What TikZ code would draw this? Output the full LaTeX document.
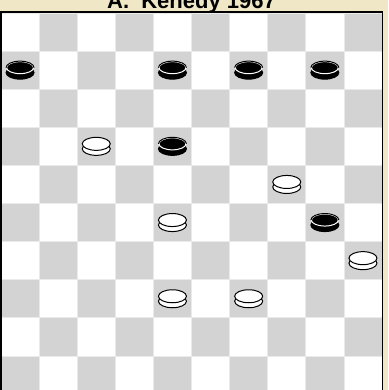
\documentclass[tikz,border=0pt]{standalone}
\usepackage{fontspec}
\setmainfont{Liberation Sans}
\usepackage{xcolor}
\usepackage{tikz}
\definecolor{boardFrame}{RGB}{239,231,197}
\definecolor{boardDark}{RGB}{211,211,211}
\definecolor{boardSeam}{RGB}{234,234,234}
\newcommand{\sqsize}{38.1}
\tikzset{
  titlelabel/.style={font=\bfseries\fontsize{22}{24}\selectfont, text=black, inner sep=0pt, anchor=base},
  lightsq/.style={fill=white, draw=boardSeam, line width=0.8pt},
  darksq/.style={fill=boardDark, draw=boardSeam, line width=0.8pt},
  boardedge/.style={draw=black, line width=1.6pt},
  whiteman/.pic={
    \filldraw[fill=white, draw=black, line width=1pt] (0,2.5) ellipse (14 and 6.5);
    \filldraw[fill=white, draw=black, line width=1pt] (0,-2.5) ellipse (14 and 6.5);
  },
  blackman/.pic={
    \filldraw[fill=black, draw=black, line width=1pt] (0,2.5) ellipse (14 and 6.5);
    \filldraw[fill=black, draw=white, line width=1pt] (0,-2.5) ellipse (13.5 and 6);
    \draw[black, line width=1pt] (-14,-2.5) arc[start angle=180, end angle=360, x radius=14, y radius=6.5];
  },
}

\begin{document}
\begin{tikzpicture}[x=1pt, y=-1pt]
  \useasboundingbox (0,0) rectangle (388,390);
  \clip (0,0) rectangle (388,390);
  \fill[boardFrame] (0,0) rectangle (388,390);

  \node[titlelabel] (title) at (191.5,9) {A.\ \ Kenedy 1967};

  % squares
  \foreach \row in {0,...,9}{
    \foreach \col in {0,...,9}{
      \pgfmathtruncatemacro{\shade}{mod(\row+\col,2)}
      \ifnum\shade=1
        \path[darksq] ({1+\col*\sqsize},{13+\row*\sqsize}) rectangle ++(\sqsize,\sqsize);
      \else
        \path[lightsq] ({1+\col*\sqsize},{13+\row*\sqsize}) rectangle ++(\sqsize,\sqsize);
      \fi
    }
  }
  \draw[boardedge] (0.8,12) rectangle (382.6,400);

  % men
  \foreach \row/\col in {1/0, 1/4, 1/6, 1/8, 3/4, 5/8}
    \pic at ({1+(\col+0.5)*\sqsize},{13+(\row+0.5)*\sqsize}) {blackman};
  \foreach \row/\col in {3/2, 4/7, 5/4, 6/9, 7/4, 7/6}
    \pic at ({1+(\col+0.5)*\sqsize},{13+(\row+0.5)*\sqsize}) {whiteman};
\end{tikzpicture}
\end{document}
